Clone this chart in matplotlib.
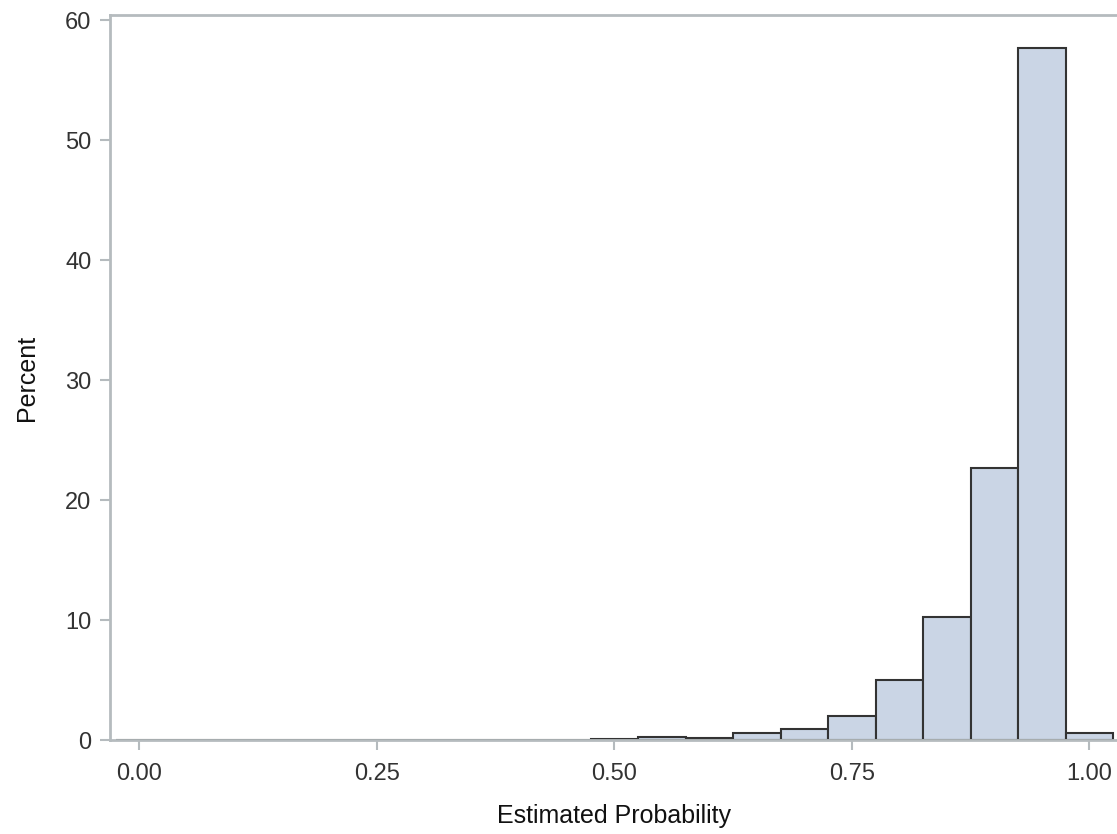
import matplotlib
matplotlib.use("Agg")
import matplotlib.pyplot as plt
import numpy as np

plt.rcParams['font.family'] = ['Liberation Sans', 'DejaVu Sans']

# bin midpoints (width 0.05) and percent in each bin
bin_mids = [0.00, 0.05, 0.10, 0.15, 0.20, 0.25, 0.30, 0.35, 0.40, 0.45,
            0.50, 0.55, 0.60, 0.65, 0.70, 0.75, 0.80, 0.85, 0.90, 0.95, 1.00]
percent = [0, 0, 0, 0, 0, 0, 0, 0, 0, 0,
           0.1, 0.25, 0.13, 0.62, 0.95, 2.0, 5.0, 10.25, 22.65, 57.7, 0.58]
bin_width = 0.05

x_ticks = [0.00, 0.25, 0.50, 0.75, 1.00]
x_tick_labels = ["0.00", "0.25", "0.50", "0.75", "1.00"]
y_ticks = [0, 10, 20, 30, 40, 50, 60]

fig = plt.figure(figsize=(11.17, 8.34), dpi=100)
ax = fig.add_axes([0.0985, 0.1127, 0.9015, 0.8693])

ax.bar(bin_mids, percent, width=bin_width, align='center',
       color='#CAD5E5', edgecolor='#333333', linewidth=1.5, zorder=2)

ax.set_xlim(-0.0308, 1.029)
ax.set_ylim(0, 60.42)

ax.set_xticks(x_ticks)
ax.set_xticklabels(x_tick_labels)
ax.set_yticks(y_ticks)

spine_color = '#B5BBBE'
for s in ['left', 'top', 'bottom']:
    ax.spines[s].set_color(spine_color)
    ax.spines[s].set_linewidth(2)
ax.spines['right'].set_visible(False)

ax.tick_params(axis='both', direction='out', length=7.5, width=1.5,
               color=spine_color, labelcolor='#333333', labelsize=17)
ax.tick_params(axis='y', pad=6)
ax.tick_params(axis='x', pad=9)

ax.set_xlabel("Estimated Probability", fontsize=18, color='#111111', labelpad=14)
ax.set_ylabel("Percent", fontsize=18, color='#111111', labelpad=19)

fig.savefig("out.png", dpi=100)
